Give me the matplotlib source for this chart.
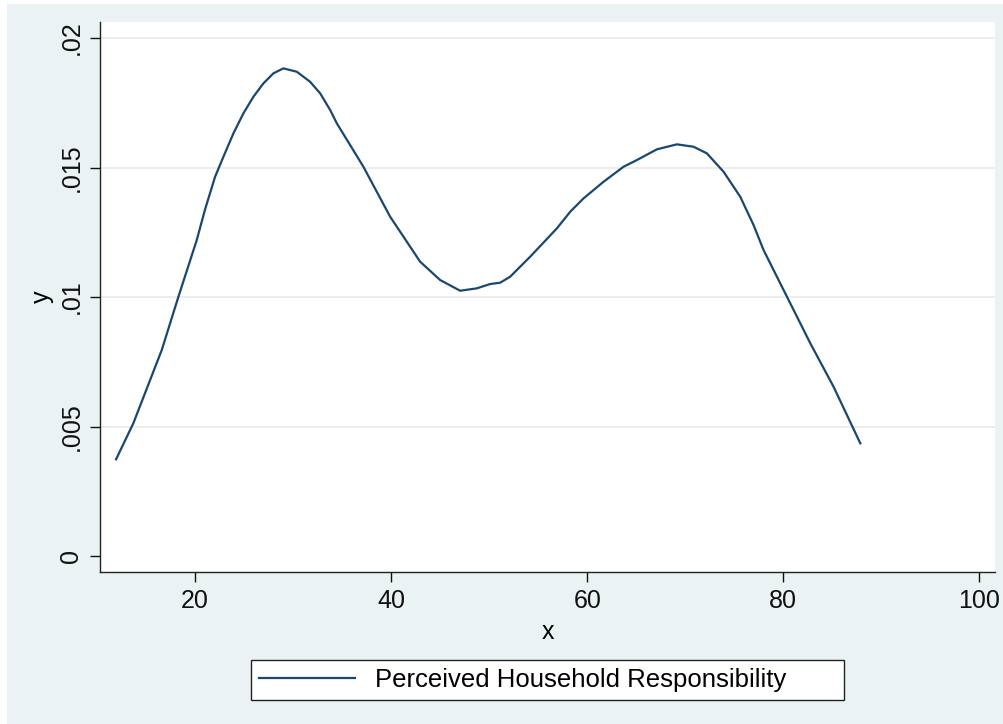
import matplotlib.pyplot as plt
import matplotlib.patches as patches

plt.rcParams['font.family'] = ['Liberation Sans', 'DejaVu Sans']

# kernel density curve
x = [11.94, 13.70, 16.60, 18.30, 20.17, 21.02, 22.04, 22.89, 23.91, 24.93,
     25.95, 26.97, 27.99, 29.01, 30.38, 31.73, 32.76, 33.78, 34.46, 37.17,
     39.90, 42.96, 45.00, 47.04, 48.74, 50.10, 51.12, 52.14, 54.18, 56.91,
     58.27, 59.63, 61.67, 63.71, 65.07, 67.11, 69.15, 70.85, 72.21, 73.91,
     75.61, 76.97, 77.99, 79.69, 81.40, 82.76, 85.13, 87.86]
y = [0.003734, 0.005124, 0.007954, 0.010012, 0.012201, 0.013386, 0.014645,
     0.015417, 0.016320, 0.017093, 0.017734, 0.018251, 0.018637, 0.018830,
     0.018699, 0.018313, 0.017865, 0.017220, 0.016706, 0.015031, 0.013100,
     0.011363, 0.010656, 0.010243, 0.010335, 0.010502, 0.010552, 0.010784,
     0.011556, 0.012652, 0.013295, 0.013810, 0.014452, 0.015031, 0.015290,
     0.015703, 0.015896, 0.015803, 0.015548, 0.014838, 0.013873, 0.012780,
     0.011815, 0.010529, 0.009240, 0.008212, 0.006537, 0.004351]

xticks = [20, 40, 60, 80, 100]
yticks = [0, 0.005, 0.01, 0.015, 0.02]
ylabels = ['0', '.005', '.01', '.015', '.02']
series_name = 'Perceived Household Responsibility'

W, H = 1004, 724
fig = plt.figure(figsize=(W / 100, H / 100), dpi=100)
fig.patch.set_facecolor('white')
fig.patches.append(patches.Rectangle((7 / W, 0), 1 - 7 / W, 1 - 4 / H,
                                     transform=fig.transFigure,
                                     facecolor='#EAF2F3', edgecolor='none',
                                     zorder=-10))

ax = fig.add_axes([100 / W, (H - 572) / H, 895 / W, 550 / H])
ax.set_facecolor('white')
line, = ax.plot(x, y, color='#1A476F', linewidth=1.6, label=series_name,
                solid_joinstyle='round')

ax.set_xlim(10.3, 101.6)
ax.set_ylim(-0.000618, 0.02062)
ax.set_xticks(xticks)
ax.set_yticks(yticks)
ax.set_yticklabels(ylabels, rotation=90, va='center')
ax.grid(axis='y', color='#EAEAEA', linewidth=1.2)
ax.yaxis.get_gridlines()[0].set_visible(False)
ax.set_axisbelow(True)
for s in ['top', 'right']:
    ax.spines[s].set_visible(False)
for s in ['left', 'bottom']:
    ax.spines[s].set_linewidth(1.0)
    ax.spines[s].set_color('#222222')
ax.tick_params(length=7, width=1, labelsize=18, colors='#111111', pad=5)
ax.set_xlabel('x', fontsize=18, labelpad=5)
ax.set_ylabel('y', fontsize=18, labelpad=4)

fig.legend(handles=[line], loc='center',
           bbox_to_anchor=(251 / W, (H - 703) / H, 593 / W, 46 / H),
           mode='expand', borderaxespad=0, fontsize=18.5, handlelength=3.7,
           handletextpad=0.8, borderpad=0.33, fancybox=False,
           edgecolor='#222222', framealpha=1)
fig.legends[0].get_frame().set_linewidth(1.0)

plt.savefig('out.png', dpi=100)
